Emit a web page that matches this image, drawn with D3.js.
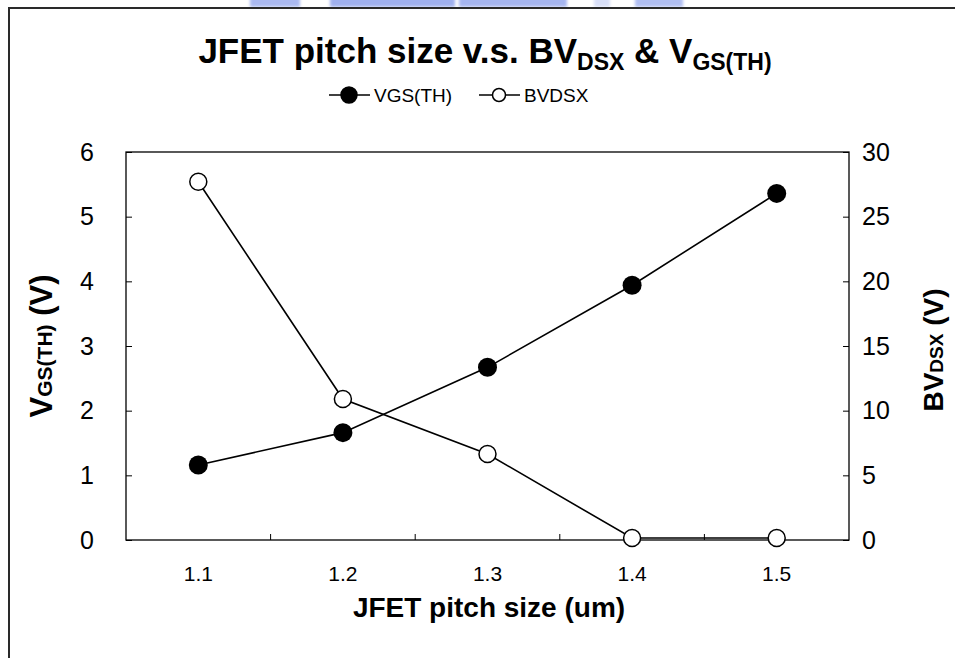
<!DOCTYPE html>
<html>
<head>
<meta charset="utf-8">
<script src="https://cdn.jsdelivr.net/npm/d3@7"></script>
<style>
  html, body { margin: 0; padding: 0; background: #fff; }
  svg { display: block; font-family: Arial, "Liberation Sans", sans-serif; }
</style>
</head>
<body>
<svg id="chart" width="955" height="658"></svg>
<script>
// JFET pitch size sweep: threshold voltage and breakdown voltage
const categories = ["1.1", "1.2", "1.3", "1.4", "1.5"];
const vgsTh = [1.16, 1.66, 2.67, 3.94, 5.36];
const bvDsx = [27.7, 10.9, 6.65, 0.15, 0.15];
const leftTicks = [0, 1, 2, 3, 4, 5, 6];
const rightTicks = [0, 5, 10, 15, 20, 25, 30];
const seriesNames = ["VGS(TH)", "BVDSX"];

const svg = d3.select("#chart");
const plot = { left: 126, right: 849, top: 152, bottom: 540 };

const x = d3.scaleBand().domain(categories).range([plot.left, plot.right]);
const yL = d3.scaleLinear().domain([0, 6]).range([plot.bottom, plot.top]);
const yR = d3.scaleLinear().domain([0, 30]).range([plot.bottom, plot.top]);
const cx = i => x(categories[i]) + x.bandwidth() / 2;

// soft blue band along the top edge
const defs = svg.append("defs");
defs.append("filter").attr("id", "soft").attr("x", "-20%").attr("y", "-100%")
  .attr("width", "140%").attr("height", "300%")
  .append("feGaussianBlur").attr("stdDeviation", 1.6);
const haze = svg.append("g").attr("filter", "url(#soft)");
[[250, 300, 0.75], [330, 455, 0.85], [459, 567, 0.8], [594, 610, 0.35], [635, 683, 0.7]]
  .forEach(([a, b, o]) => {
    haze.append("rect").attr("x", a).attr("y", -4).attr("width", b - a).attr("height", 11)
      .attr("fill", "#8ea2ec").attr("opacity", o);
  });

// chart frame (left and top edges)
svg.append("path")
  .attr("d", `M9,658 V8 H955`)
  .attr("fill", "none").attr("stroke", "#2a2a2a").attr("stroke-width", 2);

// plot area border
svg.append("rect")
  .attr("x", plot.left).attr("y", plot.top)
  .attr("width", plot.right - plot.left).attr("height", plot.bottom - plot.top)
  .attr("fill", "none").attr("stroke", "#000").attr("stroke-width", 1.3);

// left axis
const axL = svg.append("g").attr("transform", `translate(${plot.left},0)`)
  .call(d3.axisLeft(yL).tickValues(leftTicks).tickSize(-6).tickPadding(32).tickFormat(d3.format("d")));
// right axis
const axR = svg.append("g").attr("transform", `translate(${plot.right},0)`)
  .call(d3.axisRight(yR).tickValues(rightTicks).tickSize(-6).tickPadding(13).tickFormat(d3.format("d")));
// bottom axis labels at category centres
const axB = svg.append("g").attr("transform", `translate(0,${plot.bottom})`)
  .call(d3.axisBottom(x).tickSize(0).tickPadding(26));
[axL, axR, axB].forEach(g => {
  g.select(".domain").remove();
  g.selectAll(".tick line").attr("stroke", "#000").attr("stroke-width", 1);
  g.selectAll(".tick text").attr("font-size", 25).attr("fill", "#000")
    .attr("font-family", "Arial, 'Liberation Sans', sans-serif");
});
axB.selectAll(".tick text").attr("font-size", 21);
// category separator ticks on the bottom axis
svg.append("g").selectAll("line").data(categories.slice(1)).join("line")
  .attr("x1", d => x(d)).attr("x2", d => x(d))
  .attr("y1", plot.bottom).attr("y2", plot.bottom - 6)
  .attr("stroke", "#000").attr("stroke-width", 1);

// series lines
const lineL = d3.line().x((d, i) => cx(i)).y(d => yL(d));
const lineR = d3.line().x((d, i) => cx(i)).y(d => yR(d));
svg.append("path").datum(bvDsx).attr("d", lineR)
  .attr("fill", "none").attr("stroke", "#000").attr("stroke-width", 1.6);
svg.append("path").datum(vgsTh).attr("d", lineL)
  .attr("fill", "none").attr("stroke", "#000").attr("stroke-width", 1.6);

// markers
svg.append("g").selectAll("circle").data(bvDsx).join("circle")
  .attr("cx", (d, i) => cx(i)).attr("cy", d => yR(d))
  .attr("r", 8.5).attr("fill", "#fff").attr("stroke", "#000").attr("stroke-width", 1.5);
svg.append("g").selectAll("circle").data(vgsTh).join("circle")
  .attr("cx", (d, i) => cx(i)).attr("cy", d => yL(d))
  .attr("r", 9.5).attr("fill", "#000");

// title with subscripts
const title = svg.append("text").attr("x", 485).attr("y", 63)
  .attr("text-anchor", "middle").attr("font-weight", "bold").attr("fill", "#000");
title.append("tspan").text("JFET pitch size v.s. BV").attr("font-size", 35);
title.append("tspan").text("DSX").attr("font-size", 23).attr("dy", 7);
title.append("tspan").text(" & V").attr("font-size", 35).attr("dy", -7);
title.append("tspan").text("GS(TH)").attr("font-size", 23).attr("dy", 7);

// legend
const legend = svg.append("g").attr("transform", "translate(0,95)");
[[329, true, seriesNames[0]], [479, false, seriesNames[1]]].forEach(([lx, filled, name]) => {
  legend.append("line").attr("x1", lx).attr("x2", lx + 41).attr("y1", 0).attr("y2", 0)
    .attr("stroke", "#000").attr("stroke-width", 1.6);
  legend.append("circle").attr("cx", lx + 20).attr("cy", 0).attr("r", filled ? 8 : 6.5)
    .attr("fill", filled ? "#000" : "#fff").attr("stroke", "#000").attr("stroke-width", 1.5);
  legend.append("text").attr("x", lx + 45).attr("y", 7).attr("font-size", 19)
    .attr("fill", "#000").text(name);
});

// axis titles
const yTitleL = svg.append("text").attr("transform", "translate(52,346) rotate(-90)")
  .attr("text-anchor", "middle").attr("font-weight", "bold").attr("fill", "#000");
yTitleL.append("tspan").text("V").attr("font-size", 31);
yTitleL.append("tspan").text("GS(TH)").attr("font-size", 21);
yTitleL.append("tspan").text(" (V)").attr("font-size", 31);

const yTitleR = svg.append("text").attr("transform", "translate(943,350) rotate(-90)")
  .attr("text-anchor", "middle").attr("font-weight", "bold").attr("fill", "#000");
yTitleR.append("tspan").text("BV").attr("font-size", 28);
yTitleR.append("tspan").text("DSX").attr("font-size", 19);
yTitleR.append("tspan").text(" (V)").attr("font-size", 28);

svg.append("text").attr("x", 489).attr("y", 617).attr("text-anchor", "middle")
  .attr("font-weight", "bold").attr("font-size", 28).attr("fill", "#000")
  .text("JFET pitch size (um)");
</script>
</body>
</html>
